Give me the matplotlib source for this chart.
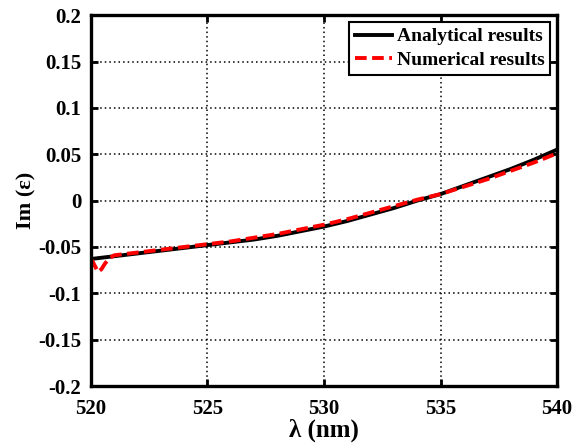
import numpy as np
import matplotlib
matplotlib.use("Agg")
import matplotlib.pyplot as plt

# analytical curve
lam_a = [520, 521, 522, 523, 524, 525, 526, 527, 528, 529, 530,
         531, 532, 533, 534, 535, 536, 537, 538, 539, 540]
im_a = [-0.063, -0.060, -0.057, -0.054, -0.051, -0.048, -0.045, -0.042, -0.038, -0.033, -0.028,
        -0.022, -0.015, -0.008, 0.000, 0.007, 0.016, 0.025, 0.034, 0.044, 0.055]

# numerical curve
lam_n = [520.0, 520.1, 520.2, 520.3, 520.45, 520.6, 520.8, 521, 522, 523, 524, 525,
         526, 527, 528, 529, 530, 531, 532, 533, 534, 535, 536, 537, 538, 539, 540]
im_n = [-0.063, -0.067, -0.072, -0.077, -0.074, -0.068, -0.062, -0.059, -0.056, -0.053, -0.050, -0.047,
        -0.044, -0.040, -0.036, -0.031, -0.026, -0.020, -0.013, -0.006, 0.001, 0.007, 0.015, 0.023,
        0.032, 0.041, 0.051]

plt.rcParams['font.family'] = ['Liberation Serif', 'DejaVu Serif']
plt.rcParams['font.weight'] = 'bold'

fig = plt.figure(figsize=(5.72, 4.46), dpi=100)
ax = fig.add_axes([0.159, 0.1345, 0.815, 0.8315])

ax.plot(lam_a, im_a, color='black', lw=2.8, label='Analytical results')
ax.plot(lam_n, im_n, color='red', lw=2.8, ls=(0, (3, 1.4)), label='Numerical results')

ax.set_xlim(520, 540)
ax.set_ylim(-0.2, 0.2)
ax.set_xticks([520, 525, 530, 535, 540])
ax.set_yticks(np.arange(-0.2, 0.201, 0.05))
ax.set_yticklabels(['-0.2', '-0.15', '-0.1', '-0.05', '0', '0.05', '0.1', '0.15', '0.2'])
ax.tick_params(direction='in', length=5, width=2, labelsize=15, top=True, right=True)
ax.tick_params(axis='x', pad=9)
ax.tick_params(axis='y', pad=7)
ax.grid(True, color='black', ls=(0, (1, 2)), lw=1.1)
for s in ax.spines.values():
    s.set_linewidth(2.4)

ax.set_xlabel('λ (nm)', fontsize=18, fontweight='bold', labelpad=0)
ax.set_ylabel('Im (ε)', fontsize=16, fontweight='bold', labelpad=1)

leg = ax.legend(loc='upper right', fancybox=False, framealpha=1,
                edgecolor='black', borderaxespad=0.35, handlelength=1.9,
                handletextpad=0.25, borderpad=0.3, labelspacing=0.3,
                prop={'weight': 'bold', 'size': 14})
leg.get_frame().set_linewidth(1.5)

fig.savefig('out.png', dpi=100)
